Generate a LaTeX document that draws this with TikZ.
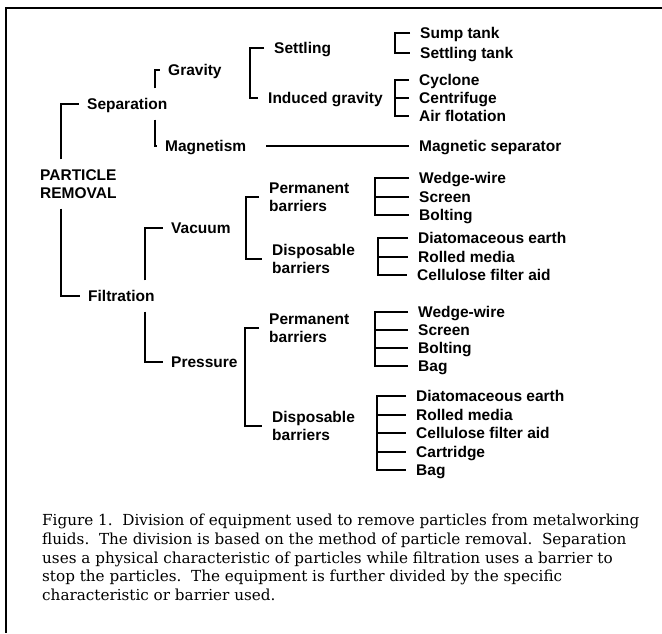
\documentclass[tikz,border=0pt]{standalone}
\usepackage{fontspec}
\setmainfont{DejaVu Serif}
\setsansfont{Liberation Sans}
\usetikzlibrary{positioning}

\begin{document}
\begin{tikzpicture}[
    x=1pt,              % one unit per pixel
    y=-1pt,             % rows run downwards
    item/.style={anchor=west, inner sep=0pt, text height=11pt, text depth=0pt,
                 font=\sffamily\bfseries\fontsize{15.5}{18}\selectfont},
    pair/.style={anchor=west, inner sep=0pt, align=left,
                 font=\sffamily\bfseries\fontsize{15.5}{18}\selectfont},
    link/.style={line width=1.6pt},
    stem/.style={link, shorten <=10pt, shorten >=8pt},
    bracket/.style={link, shorten <=10pt, shorten >=10pt},
    tick/.style={link, shorten >=10pt}
]

    % --- Frame and size ---
    \useasboundingbox (0,0) rectangle (662,633);
    \draw[line width=1.8pt] (662,8) -- (6,8) -- (6,633);

    % --- 1. Main branches ---
    \node[pair] (root) at (40,184) {PARTICLE\\REMOVAL};
    \node[item] (sep)  at (87,104)  {Separation};
    \node[item] (filt) at (88,296)  {Filtration};

    \node[item] (grav) at (168,70)  {Gravity};
    \node[item] (mag)  at (165,146) {Magnetism};
    \node[item] (vac)  at (171,228) {Vacuum};
    \node[item] (pres) at (171,362) {Pressure};

    % --- 2. Middle level ---
    \node[item] (settl) at (274,48)  {Settling};
    \node[item] (indg)  at (268,98)  {Induced gravity};
    \node[pair] (vperm) at (269,197) {Permanent\\barriers};
    \node[pair] (vdisp) at (272,259) {Disposable\\barriers};
    \node[pair] (pperm) at (269,328) {Permanent\\barriers};
    \node[pair] (pdisp) at (272,426) {Disposable\\barriers};

    % --- 3. Equipment (leaves) ---
    \node[item] (sump)  at (420,33)  {Sump tank};
    \node[item] (stank) at (420,53)  {Settling tank};
    \node[item] (cyc)   at (419,80)  {Cyclone};
    \node[item] (cen)   at (419,98)  {Centrifuge};
    \node[item] (air)   at (419,116) {Air flotation};
    \node[item] (msep)  at (419,146) {Magnetic separator};

    \node[item] (vww)  at (419,178) {Wedge-wire};
    \node[item] (vscr) at (419,197) {Screen};
    \node[item] (vbol) at (419,215) {Bolting};
    \node[item] (vdia) at (418,238) {Diatomaceous earth};
    \node[item] (vrol) at (418,257) {Rolled media};
    \node[item] (vcel) at (417,275) {Cellulose filter aid};

    \node[item] (pww)  at (418,312) {Wedge-wire};
    \node[item] (pscr) at (418,330) {Screen};
    \node[item] (pbol) at (418,348) {Bolting};
    \node[item] (pbag) at (418,366) {Bag};
    \node[item] (pdia) at (416,396) {Diatomaceous earth};
    \node[item] (prol) at (416,415) {Rolled media};
    \node[item] (pcel) at (416,433) {Cellulose filter aid};
    \node[item] (pcar) at (416,452) {Cartridge};
    \node[item] (pbg)  at (416,470) {Bag};

    % --- 4. Bracket spines ---
    \coordinate (rx) at (61,0);
    \coordinate (sx) at (155,0);
    \coordinate (fx) at (145,0);
    \coordinate (gx) at (250,0);
    \coordinate (vx) at (246,0);
    \coordinate (px) at (245,0);
    \coordinate (lx) at (395,0);   % settling / induced gravity leaves
    \coordinate (vpx) at (375,0);
    \coordinate (vdx) at (378,0);
    \coordinate (ppx) at (375,0);
    \coordinate (pdx) at (377,0);

    % --- 5. Connectors ---
    \draw[stem] (root.north -| rx) |- (sep.west);
    \draw[stem] (root.south -| rx) |- (filt.west);
    \draw[stem] (sep.north -| sx) |- (grav.west);
    \draw[stem] (sep.south -| sx) |- (mag.west);
    \draw[stem] (filt.north -| fx) |- (vac.west);
    \draw[stem] (filt.south -| fx) |- (pres.west);

    \draw[bracket] (settl.west) -| (gx |- indg.west) -- (indg.west);
    \draw[bracket] (vperm.west) -| (vx |- vdisp.west) -- (vdisp.west);
    \draw[bracket] (pperm.west) -| (px |- pdisp.west) -- (pdisp.west);

    \draw[bracket] (sump.west) -| (lx |- stank.west) -- (stank.west);
    \draw[bracket] (cyc.west) -| (lx |- air.west) -- (air.west);
    \draw[tick] (lx |- cen.west) -- (cen.west);
    \draw[link, shorten <=20pt, shorten >=10pt] (mag.east) -- (msep.west);

    \draw[bracket] (vww.west) -| (vpx |- vbol.west) -- (vbol.west);
    \draw[tick] (vpx |- vscr.west) -- (vscr.west);
    \draw[bracket] (vdia.west) -| (vdx |- vcel.west) -- (vcel.west);
    \draw[tick] (vdx |- vrol.west) -- (vrol.west);

    \draw[bracket] (pww.west) -| (ppx |- pbag.west) -- (pbag.west);
    \foreach \n in {pscr,pbol} \draw[tick] (ppx |- \n.west) -- (\n.west);
    \draw[bracket] (pdia.west) -| (pdx |- pbg.west) -- (pbg.west);
    \foreach \n in {prol,pcel,pcar} \draw[tick] (pdx |- \n.west) -- (\n.west);

    % --- 6. Caption ---
    \node[anchor=north west, inner sep=0pt, align=left,
          font=\fontsize{15.2}{18.7}\selectfont] (cap) at (42,514)
        {Figure 1.\ \ Division of equipment used to remove particles from metalworking\\
         fluids.\ \ The division is based on the method of particle removal.\ \ Separation\\
         uses a physical characteristic of particles while filtration uses a barrier to\\
         stop the particles.\ \ The equipment is further divided by the specific\\
         characteristic or barrier used.};

\end{tikzpicture}
\end{document}
